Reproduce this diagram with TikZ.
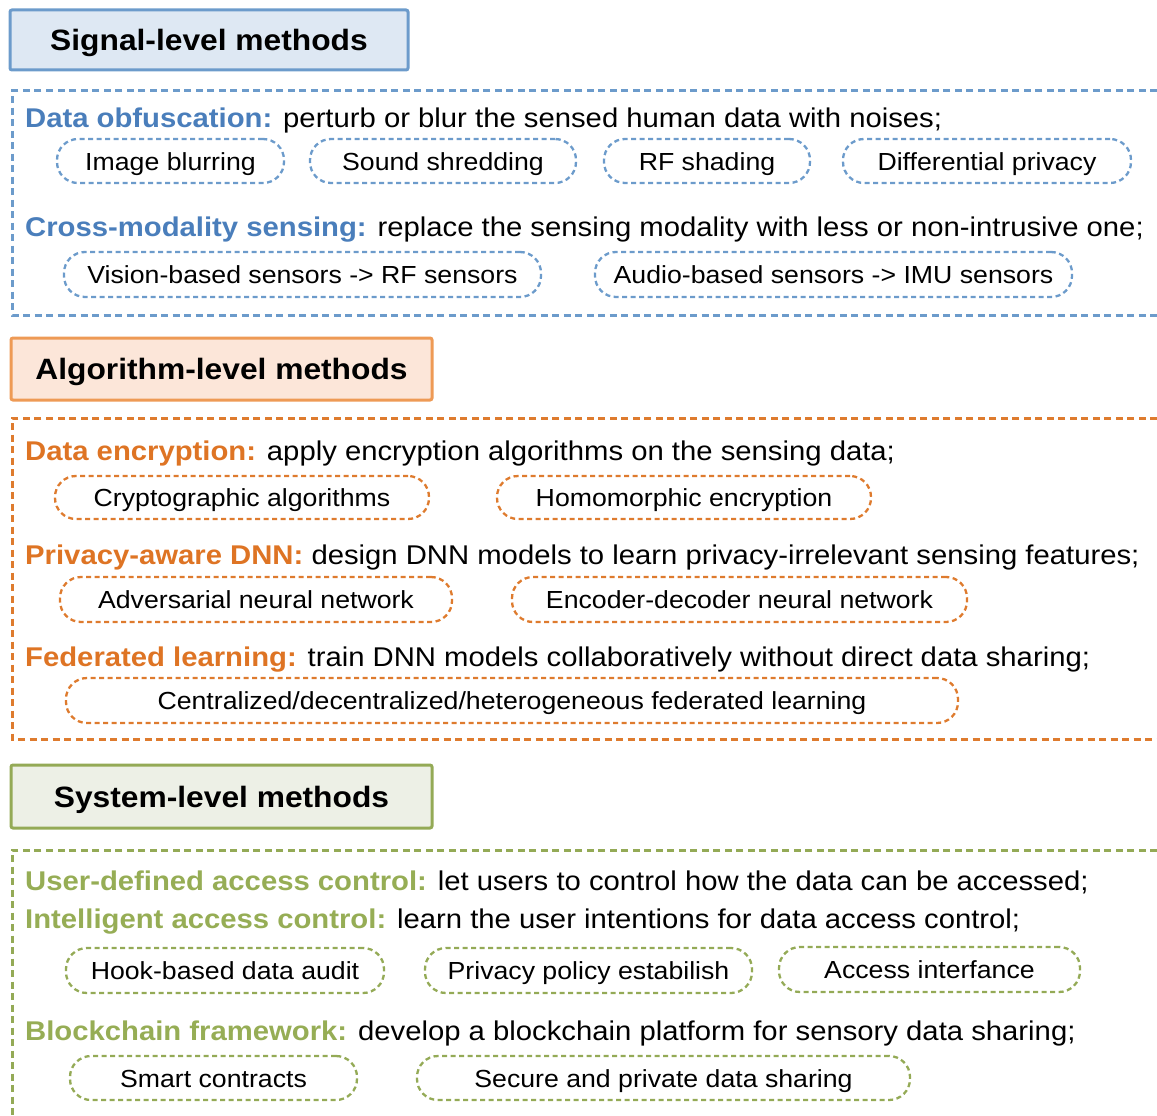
\documentclass[tikz,border=0pt]{standalone}
\usepackage{fontspec}
\setmainfont{Liberation Sans}[FakeStretch=1.08]
\definecolor{bluetxt}{HTML}{4A7EBB}
\definecolor{blueln}{HTML}{6C9BCB}
\definecolor{bluefill}{HTML}{DEE8F3}
\definecolor{orgtxt}{HTML}{DE7424}
\definecolor{orgln}{HTML}{DE7B2E}
\definecolor{orgtitle}{HTML}{EE9A55}
\definecolor{orgfill}{HTML}{FCE6D9}
\definecolor{grntxt}{HTML}{96AD55}
\definecolor{grnln}{HTML}{94AA56}
\definecolor{grnfill}{HTML}{EDF0E6}
\newcommand{\bodyfont}{\fontsize{27.1}{32}\selectfont}
\newcommand{\pillfont}{\fontsize{24.7}{30}\selectfont}
\newcommand{\titlefont}{\fontsize{29.4}{35}\selectfont\bfseries}
\tikzset{
  titlebox/.style={draw=#1, line width=3pt, rounded corners=2pt, inner sep=0pt, font=\titlefont, text height=21pt, text depth=0pt},
  container/.style={draw=#1, line width=3pt, dash pattern=on 7pt off 4.5pt},
  pill/.style={draw=#1, line width=2.3pt, dash pattern=on 5pt off 3.5pt, rounded corners=21pt, inner sep=0pt, font=\pillfont, text height=18pt, text depth=0pt, minimum height=44pt},
  desc/.style={anchor=base west, inner sep=0pt, font=\bodyfont},
}
\begin{document}
\begin{tikzpicture}[x=1pt,y=-1pt]
\useasboundingbox (0,0) rectangle (1157,1116);

% ---------- Signal-level ----------
\node[titlebox=blueln, fill=bluefill, minimum width=398pt, minimum height=60pt] (sigtitle) at (209,40) {Signal-level methods};
\draw[container=blueln] (1157,91) -- (12,91) -- (12,315) -- (1157,315);
\node[desc] (obf) at (25,127) {\textcolor{bluetxt}{\bfseries Data obfuscation:} perturb or blur the sensed human data with noises;};
\node[pill=blueln, minimum width=227pt] (p1) at (170.5,161) {Image blurring};
\node[pill=blueln, minimum width=266pt] (p2) at (443,161) {Sound shredding};
\node[pill=blueln, minimum width=206pt] (p3) at (707,161) {RF shading};
\node[pill=blueln, minimum width=288pt] (p4) at (987,161) {Differential privacy};
\node[desc] (cross) at (25,236) {\textcolor{bluetxt}{\bfseries Cross-modality sensing:} replace the sensing modality with less or non-intrusive one;};
\node[pill=blueln, minimum width=477pt, minimum height=45pt] (p5) at (302.5,274.5) {Vision-based sensors -> RF sensors};
\node[pill=blueln, minimum width=477pt, minimum height=45pt] (p6) at (833.5,274.5) {Audio-based sensors -> IMU sensors};

% ---------- Algorithm-level ----------
\node[titlebox=orgtitle, fill=orgfill, minimum width=421pt, minimum height=62pt] (algtitle) at (221.5,369) {Algorithm-level methods};
\draw[container=orgln] (1157,418) -- (12,418) -- (12,739) -- (1157,739);
\node[desc] (enc) at (25,460) {\textcolor{orgtxt}{\bfseries Data encryption:} apply encryption algorithms on the sensing data;};
\node[pill=orgln, minimum width=374pt, minimum height=43pt] (a1) at (242,497.5) {Cryptographic algorithms};
\node[pill=orgln, minimum width=374pt, minimum height=43pt] (a2) at (684,497.5) {Homomorphic encryption};
\node[desc] (dnn) at (25,564) {\textcolor{orgtxt}{\bfseries Privacy-aware DNN:} design DNN models to learn privacy-irrelevant sensing features;};
\node[pill=orgln, minimum width=392pt, minimum height=45pt] (a3) at (256,599.5) {Adversarial neural network};
\node[pill=orgln, minimum width=455pt, minimum height=45pt] (a4) at (739.5,599.5) {Encoder-decoder neural network};
\node[desc] (fed) at (25,666) {\textcolor{orgtxt}{\bfseries Federated learning:} train DNN models collaboratively without direct data sharing;};
\node[pill=orgln, minimum width=892pt, minimum height=45pt] (a5) at (512,700.5) {Centralized/decentralized/heterogeneous federated learning};

% ---------- System-level ----------
\node[titlebox=grnln, fill=grnfill, minimum width=421pt, minimum height=63pt] (systitle) at (221.5,796.5) {System-level methods};
\draw[container=grnln] (1157,850) -- (12,850) -- (12,1116);
\node[desc] (user) at (25,890) {\textcolor{grntxt}{\bfseries User-defined access control:} let users to control how the data can be accessed;};
\node[desc] (intel) at (25,928) {\textcolor{grntxt}{\bfseries Intelligent access control:} learn the user intentions for data access control;};
\node[pill=grnln, minimum width=318pt, minimum height=45pt] (s1) at (225,970.5) {Hook-based data audit};
\node[pill=grnln, minimum width=327pt, minimum height=45pt] (s2) at (588.5,970.5) {Privacy policy estabilish};
\node[pill=grnln, minimum width=301pt, minimum height=45pt] (s3) at (929.5,969.5) {Access interfance};
\node[desc] (block) at (25,1040) {\textcolor{grntxt}{\bfseries Blockchain framework:} develop a blockchain platform for sensory data sharing;};
\node[pill=grnln, minimum width=287pt] (s4) at (213.5,1078) {Smart contracts};
\node[pill=grnln, minimum width=493pt] (s5) at (663.5,1078) {Secure and private data sharing};
\end{tikzpicture}
\end{document}
